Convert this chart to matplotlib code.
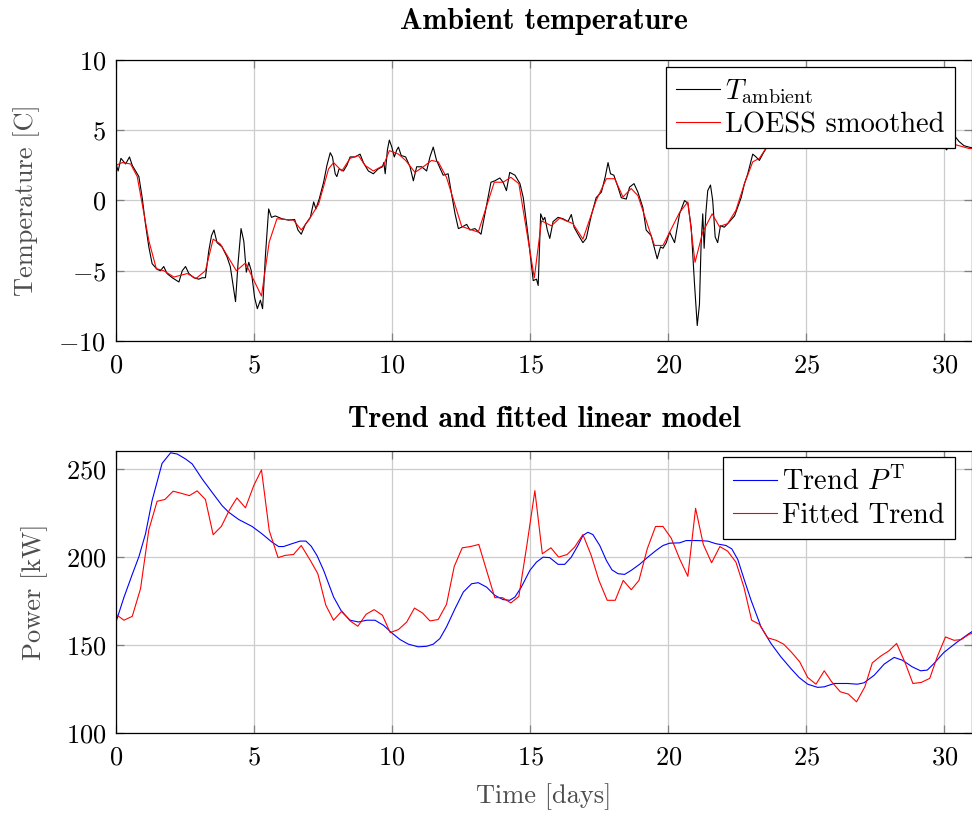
import numpy as np
import matplotlib.pyplot as plt

#-------------------------------------------------------------
# Data
#-------------------------------------------------------------
# ambient temperature (raw), days / degC
t_amb = [0.00, 0.08, 0.18, 0.35, 0.49, 0.59, 0.71, 0.83, 0.95, 1.07, 1.19, 1.31, 1.49, 1.61,
         1.73, 1.85, 2.04, 2.28, 2.40, 2.52, 2.64, 2.82, 3.00, 3.12, 3.24, 3.36, 3.46, 3.55,
         3.66, 3.84, 4.02, 4.14, 4.33, 4.42, 4.53, 4.63, 4.72, 4.81, 4.90, 5.02, 5.12, 5.23,
         5.31, 5.41, 5.53, 5.63, 5.77, 6.01, 6.25, 6.47, 6.59, 6.71, 6.86, 7.04, 7.16, 7.24,
         7.36, 7.52, 7.64, 7.76, 7.84, 7.94, 8.00, 8.08, 8.24, 8.36, 8.48, 8.66, 8.84, 8.96,
         9.14, 9.32, 9.50, 9.65, 9.70, 9.75, 9.83, 9.90, 9.99, 10.08, 10.17, 10.23, 10.33,
         10.49, 10.65, 10.77, 10.89, 11.07, 11.25, 11.37, 11.49, 11.61, 11.85, 12.03, 12.15,
         12.28, 12.40, 12.52, 12.70, 12.82, 13.00, 13.22, 13.36, 13.58, 13.72, 13.90, 14.02,
         14.14, 14.26, 14.45, 14.63, 14.75, 14.93, 15.11, 15.23, 15.29, 15.38, 15.47, 15.53,
         15.62, 15.71, 15.83, 16.01, 16.19, 16.37, 16.49, 16.59, 16.73, 16.91, 17.03, 17.21,
         17.39, 17.58, 17.72, 17.82, 17.91, 18.03, 18.18, 18.30, 18.48, 18.60, 18.76, 18.90,
         19.08, 19.20, 19.38, 19.50, 19.60, 19.72, 19.81, 19.93, 20.05, 20.23, 20.41, 20.59,
         20.71, 20.83, 20.95, 21.05, 21.13, 21.19, 21.25, 21.30, 21.36, 21.43, 21.53, 21.61,
         21.70, 21.79, 21.89, 22.03, 22.22, 22.40, 22.64, 22.76, 22.88, 23.00, 23.06, 23.18,
         23.30, 23.42, 23.60, 23.90, 24.30, 24.80, 25.30, 25.80, 26.40, 27.00, 27.60, 28.20,
         28.80, 29.40, 29.80, 29.98, 30.08, 30.22, 30.41, 30.53, 30.71, 30.89, 31.00]
T_amb = [2.6, 2.1, 3.0, 2.6, 3.1, 2.5, 2.1, 1.7, 0.2, -1.7, -3.3, -4.5, -4.9, -5.0,
         -4.7, -5.2, -5.5, -5.8, -5.0, -4.7, -5.2, -5.5, -5.6, -5.5, -5.5, -3.6, -2.5, -2.1,
         -3.0, -3.3, -4.0, -4.7, -7.2, -4.5, -2.0, -2.9, -5.1, -4.4, -5.0, -6.9, -7.7, -7.1,
         -7.7, -4.0, -0.6, -1.2, -1.1, -1.3, -1.4, -1.35, -2.1, -2.4, -1.7, -1.2, -0.1, -0.6,
         0.1, 1.3, 2.5, 3.4, 3.1, 1.9, 1.7, 2.25, 2.1, 2.5, 3.1, 3.1, 3.3, 2.7,
         2.1, 1.9, 2.25, 2.4, 2.7, 1.9, 3.6, 4.3, 3.8, 3.1, 3.6, 3.8, 3.2,
         3.1, 2.4, 1.4, 2.4, 2.4, 2.1, 3.1, 3.8, 2.85, 1.8, 1.9, 0.5,
         -0.95, -2.0, -1.9, -1.7, -2.1, -2.0, -2.4, -0.95, 1.3, 1.4, 1.6, 1.3,
         0.7, 2.0, 1.8, 1.2, 0.2, -2.6, -5.7, -5.6, -6.05, -0.95, -1.4, -1.2,
         -2.1, -2.7, -1.5, -1.2, -1.3, -1.5, -1.0, -1.9, -2.4, -3.0, -2.7, -1.1,
         0.2, 0.6, 1.7, 2.7, 1.9, 1.8, 0.95, 0.2, 0.1, 0.95, 1.2, 0.6,
         -0.5, -2.1, -2.5, -3.4, -4.15, -3.3, -3.4, -3.0, -2.25, -3.0, -0.95, 0.0,
         -0.2, -1.9, -5.9, -8.9, -7.4, -3.1, -0.95, -3.4, -0.95, 0.7, 1.1, 0.0,
         -2.6, -3.0, -1.8, -1.9, -1.5, -1.1, 0.2, 1.2, 1.9, 2.85, 3.3, 3.1,
         2.85, 3.3, 3.9, 4.8, 5.6, 6.2, 6.8, 6.5, 7.0, 6.3, 5.8, 6.0,
         5.2, 4.6, 4.2, 3.9, 3.6, 4.1, 4.5, 4.2, 3.9, 3.8, 3.75]

# LOESS smoothed temperature
t_loess = [0.00, 0.23, 0.53, 0.77, 1.19, 1.46, 1.73, 2.10, 2.58, 2.90, 3.24, 3.52, 3.78, 4.36,
           4.69, 5.27, 5.55, 5.83, 6.43, 6.71, 6.98, 7.34, 7.70, 7.88, 8.18, 8.48, 8.78, 9.02,
           9.32, 9.69, 9.90, 10.23, 10.49, 10.83, 11.13, 11.43, 11.67, 11.97, 12.52, 13.12,
           13.70, 14.02, 14.30, 14.59, 15.15, 15.41, 15.77, 16.07, 16.55, 16.91, 17.39, 17.76,
           18.06, 18.36, 18.66, 18.90, 19.50, 19.81, 20.41, 20.71, 20.97, 21.25, 21.59, 21.85,
           22.15, 22.45, 22.76, 23.06, 23.30, 23.60, 24.00, 24.60, 25.30, 26.00, 26.70, 27.40,
           28.10, 28.80, 29.50, 30.05, 30.35, 30.89, 31.00]
T_loess = [2.5, 2.7, 2.6, 1.7, -2.85, -4.85, -5.0, -5.45, -5.2, -5.55, -5.0, -2.75, -3.1, -5.0,
           -4.45, -6.8, -2.95, -1.3, -1.4, -2.1, -1.4, -0.25, 2.25, 2.7, 2.1, 3.0, 3.2, 2.5,
           2.1, 2.5, 3.55, 3.3, 2.85, 2.0, 2.4, 2.85, 2.75, 1.65, -1.85, -2.25,
           1.3, 1.3, 1.65, 1.2, -5.5, -1.45, -1.8, -1.25, -1.65, -2.75, 0.0, 1.55,
           1.55, 0.25, 0.85, 0.35, -3.2, -3.2, -0.85, -0.1, -4.4, -2.25, -0.95, -1.85,
           -1.65, -0.7, 1.2, 2.75, 3.0, 3.9, 4.9, 5.8, 6.5, 6.6, 6.5, 6.0,
           5.8, 5.1, 4.4, 3.8, 4.0, 3.7, 3.7]

# trend of the power, kW
t_trend = [0.00, 0.29, 0.59, 0.83, 1.07, 1.31, 1.67, 1.98, 2.22, 2.52, 2.76, 3.12, 3.48, 3.84,
           4.08, 4.45, 4.93, 5.29, 5.65, 5.89, 6.07, 6.37, 6.67, 6.88, 7.07, 7.28, 7.52, 7.88,
           8.18, 8.48, 8.78, 9.08, 9.38, 9.69, 9.99, 10.29, 10.59, 10.95, 11.25, 11.49, 11.73,
           11.97, 12.28, 12.58, 12.88, 13.12, 13.42, 13.72, 14.02, 14.26, 14.45, 14.68, 14.99,
           15.23, 15.47, 15.71, 16.01, 16.25, 16.49, 16.73, 16.91, 17.09, 17.27, 17.52, 17.76,
           17.96, 18.18, 18.42, 18.66, 18.96, 19.26, 19.56, 19.81, 20.05, 20.41, 20.65, 21.07,
           21.43, 21.73, 22.09, 22.30, 22.52, 22.76, 23.00, 23.36, 23.72, 24.08, 24.44, 24.74,
           25.05, 25.41, 25.65, 26.01, 26.49, 26.85, 27.09, 27.46, 27.82, 28.18, 28.48, 28.84,
           29.14, 29.38, 29.62, 29.98, 30.47, 30.89, 31.00]
P_trend = [163.0, 177.0, 190.0, 200.0, 213.0, 232.0, 253.0, 259.0, 258.3, 255.5, 252.7, 244.2, 236.6, 229.1,
           225.3, 221.1, 217.2, 213.0, 208.3, 205.8, 205.8, 207.4, 208.9, 208.9, 206.0, 200.7, 192.3, 177.2,
           168.7, 164.0, 163.0, 164.0, 164.0, 161.1, 156.8, 153.0, 150.4, 148.9, 149.2, 150.4, 153.6,
           160.2, 170.6, 180.0, 184.7, 185.3, 182.8, 178.1, 175.7, 175.3, 177.2, 182.8, 192.3,
           197.0, 199.8, 199.5, 195.7, 195.7, 199.8, 206.4, 212.1, 213.9, 212.6, 206.4, 197.9,
           192.6, 190.4, 190.0, 192.3, 195.7, 199.8, 203.6, 206.4, 207.7, 207.9, 209.2, 209.2,
           208.9, 207.4, 206.4, 204.5, 198.4, 186.6, 175.3, 160.2, 150.8, 143.2, 136.6, 131.5,
           127.7, 125.9, 126.2, 128.1, 128.1, 127.7, 128.5, 132.8, 139.1, 142.9, 141.3, 137.5,
           135.3, 135.7, 139.4, 145.7, 151.7, 156.4, 157.5]

# fitted trend from the linear model
t_fit = [0.01, 0.29, 0.59, 0.89, 1.19, 1.49, 1.77, 2.07, 2.37, 2.66, 2.94, 3.24, 3.52, 3.82,
         4.11, 4.38, 4.69, 4.99, 5.27, 5.55, 5.87, 6.13, 6.43, 6.71, 7.04, 7.31, 7.60, 7.88,
         8.18, 8.48, 8.76, 9.06, 9.35, 9.65, 9.93, 10.23, 10.53, 10.81, 11.10, 11.37, 11.67,
         11.97, 12.25, 12.54, 12.84, 13.14, 13.42, 13.72, 14.00, 14.30, 14.59, 14.87, 15.17,
         15.44, 15.75, 16.03, 16.34, 16.61, 16.91, 17.21, 17.49, 17.79, 18.08, 18.37, 18.66,
         18.94, 19.24, 19.54, 19.81, 20.11, 20.41, 20.71, 20.99, 21.27, 21.57, 21.87, 22.15,
         22.45, 22.74, 23.02, 23.30, 23.60, 23.91, 24.18, 24.47, 24.76, 25.05, 25.35, 25.65,
         25.92, 26.23, 26.52, 26.82, 27.12, 27.39, 27.69, 27.99, 28.27, 28.58, 28.86, 29.16,
         29.47, 29.74, 30.04, 30.35, 30.61, 30.89, 31.00]
P_fit = [167.2, 164.0, 166.2, 181.9, 215.3, 231.5, 232.5, 237.2, 236.0, 234.7, 237.4, 232.5, 212.5, 217.3,
         226.6, 233.4, 227.8, 240.4, 249.3, 214.9, 199.5, 200.8, 201.3, 206.4, 197.9, 190.4, 172.5, 164.0,
         169.2, 163.6, 160.6, 167.4, 170.0, 166.8, 157.0, 158.7, 163.0, 170.9, 168.1, 163.6, 164.4,
         173.0, 194.5, 205.1, 205.8, 207.0, 192.3, 176.8, 176.8, 173.8, 177.5, 205.5, 237.5,
         201.7, 205.1, 199.8, 201.3, 205.5, 212.6, 200.8, 186.6, 175.3, 175.3, 186.6, 181.3,
         186.6, 204.5, 217.2, 217.2, 210.5, 198.9, 188.9, 227.5, 207.0, 196.6, 205.8, 203.2,
         197.0, 182.8, 164.0, 161.7, 154.0, 152.6, 150.4, 145.7, 140.4, 131.5, 127.7, 135.3,
         129.0, 123.4, 122.1, 117.7, 126.2, 139.8, 143.6, 146.6, 150.8, 139.8, 128.1, 128.7,
         131.0, 143.2, 154.5, 152.6, 153.0, 156.0, 156.5]

#-------------------------------------------------------------
# Style (pgfplots look)
#-------------------------------------------------------------
plt.rcParams['font.family'] = 'cmr10'
plt.rcParams['mathtext.fontset'] = 'cm'
plt.rcParams['axes.formatter.use_mathtext'] = True
plt.rcParams['font.size'] = 19
plt.rcParams['axes.unicode_minus'] = True

fig = plt.figure(figsize=(9.72, 8.14), dpi=100)
ax1 = fig.add_axes([0.1193, 0.5811, 0.8807, 0.3452])
ax2 = fig.add_axes([0.1193, 0.0995, 0.8807, 0.3464])

label_col = '#4d4d4d'
leg_kw = dict(loc='upper right', fancybox=False, framealpha=1, edgecolor='black',
              fontsize=20.5, handlelength=1.55, handletextpad=0.2, borderpad=0.35,
              labelspacing=0.22, borderaxespad=0)


def style(ax):
    ax.set_xlim(0, 31)
    ax.set_xticks([0, 5, 10, 15, 20, 25, 30])
    ax.grid(True, color='#cccccc', linewidth=0.9)
    ax.set_axisbelow(True)
    ax.tick_params(direction='in', length=6, width=0.9, color='#808080',
                   top=True, right=True, labelsize=19, pad=7)
    ax.tick_params(axis='x', pad=9)
    for s in ax.spines.values():
        s.set_linewidth(0.9)
        s.set_color('black')


# top: ambient temperature
ax1.plot(t_amb, T_amb, color='black', lw=0.8, label=r'$T_{\mathrm{ambient}}$')
ax1.plot(t_loess, T_loess, color='red', lw=0.8, label='LOESS smoothed')
style(ax1)
ax1.set_ylim(-10, 10)
ax1.set_yticks([-10, -5, 0, 5, 10])
ax1.set_ylabel('Temperature [C]', color=label_col, labelpad=13)
ax1.set_title('Ambient temperature', fontfamily='cmb10', fontsize=21.5, pad=22)
leg1 = ax1.legend(bbox_to_anchor=(0.98, 0.975), **leg_kw)
leg1.get_frame().set_linewidth(0.9)

# bottom: trend and fitted model
ax2.plot(t_trend, P_trend, color='blue', lw=0.8, label=r'Trend $P^{\mathrm{T}}$')
ax2.plot(t_fit, P_fit, color='red', lw=0.8, label='Fitted Trend')
style(ax2)
ax2.set_ylim(100, 260)
ax2.set_yticks([100, 150, 200, 250])
ax2.set_ylabel('Power [kW]', color=label_col, labelpad=13)
ax2.set_xlabel('Time [days]', color=label_col, labelpad=10)
ax2.set_title('Trend and fitted linear model', fontfamily='cmb10', fontsize=21.5, pad=17)
leg2 = ax2.legend(bbox_to_anchor=(0.98, 0.978), **leg_kw)
leg2.get_frame().set_linewidth(0.9)

plt.savefig('out.png', dpi=100)
